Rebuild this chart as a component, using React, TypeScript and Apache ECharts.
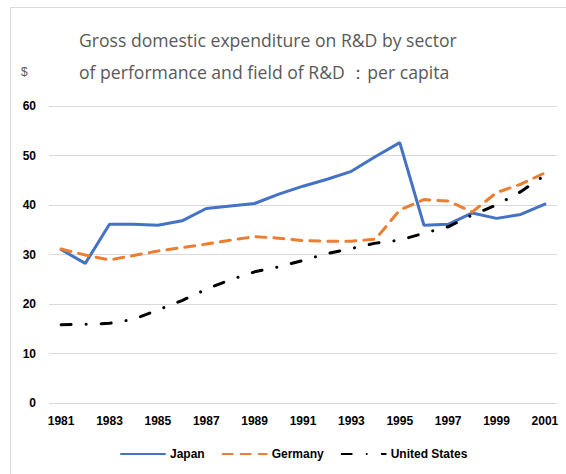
import React, { useEffect, useRef } from "react";
import * as echarts from "echarts";

const years = ["1981","1982","1983","1984","1985","1986","1987","1988","1989","1990","1991","1992","1993","1994","1995","1996","1997","1998","1999","2000","2001"];
const japan = [31.0, 28.2, 36.1, 36.1, 35.9, 36.8, 39.3, 39.8, 40.3, 42.2, 43.8, 45.2, 46.8, 49.8, 52.6, 35.9, 36.1, 38.4, 37.3, 38.1, 40.2];
const germany = [31.1, 29.9, 28.9, 29.8, 30.7, 31.4, 32.1, 32.9, 33.6, 33.3, 32.8, 32.7, 32.7, 33.1, 39.0, 41.1, 40.8, 38.6, 42.5, 44.2, 46.5];
const usa = [15.8, 15.9, 16.1, 16.9, 18.8, 20.7, 23.0, 24.9, 26.5, 27.5, 28.8, 30.2, 31.2, 32.3, 32.9, 34.3, 35.6, 38.0, 40.0, 42.7, 46.0];
const seriesNames = ["Japan", "Germany", "United States"];
const titleText = "Gross domestic expenditure on R&D by sector\nof performance and field of R&D ：per capita";

export default function App() {
  const ref = useRef<HTMLDivElement>(null);
  useEffect(() => {
    if (!ref.current) return;
    const chart = echarts.init(ref.current, null, { renderer: "svg" });
    const font = "'Liberation Sans', Arial, sans-serif";
    chart.setOption({
      animation: false,
      backgroundColor: "#ffffff",
      title: {
        text: titleText,
        left: 74,
        top: 19,
        textStyle: {
          fontFamily: "'Open Sans', 'Noto Sans', sans-serif",
          fontSize: 17.6,
          fontWeight: "normal",
          color: "#595959",
          lineHeight: 32,
        },
      },
      graphic: [
        {
          type: "rect",
          shape: { x: 10.5, y: 7.5, width: 700, height: 700 },
          style: { fill: "none", stroke: "#d9d9d9", lineWidth: 1 },
          silent: true,
          z: -1,
        },
        {
          type: "text",
          left: 21,
          top: 66,
          style: { text: "$", fill: "#595959", font: "12px " + font },
        },
      ],
      legend: {
        left: 115,
        top: 443,
        itemWidth: 44,
        itemHeight: 12,
        itemGap: 17,
        data: seriesNames,
        itemStyle: { opacity: 0 },
        textStyle: { fontFamily: font, fontSize: 12, fontWeight: "bold", color: "#000" },
      },
      grid: { left: 49, right: 9, top: 106, bottom: 71, containLabel: false },
      xAxis: {
        type: "category",
        data: years,
        boundaryGap: true,
        axisLine: { show: false },
        axisTick: { show: false },
        axisLabel: {
          interval: 1,
          margin: 12,
          fontFamily: font,
          fontSize: 12,
          fontWeight: "bold",
          color: "#000",
        },
      },
      yAxis: {
        type: "value",
        min: 0,
        max: 60,
        interval: 10,
        axisLine: { show: false },
        axisTick: { show: false },
        splitLine: { lineStyle: { color: "#d9d9d9", width: 1 } },
        axisLabel: {
          margin: 13,
          fontFamily: font,
          fontSize: 12,
          fontWeight: "bold",
          color: "#000",
        },
      },
      series: [
        {
          name: seriesNames[0],
          type: "line",
          data: japan,
          symbol: "none",
          color: "#4472C4",
          lineStyle: { width: 3, color: "#4472C4", cap: "round" },
        },
        {
          name: seriesNames[1],
          type: "line",
          data: germany,
          symbol: "none",
          color: "#ED7D31",
          lineStyle: { width: 3, color: "#ED7D31", type: [10, 8], cap: "round" },
        },
        {
          name: seriesNames[2],
          type: "line",
          data: usa,
          symbol: "none",
          color: "#000000",
          lineStyle: { width: 3, color: "#000000", type: [10, 15, 0.1, 15], cap: "round" },
        },
      ],
    });
    return () => chart.dispose();
  }, []);
  return <div ref={ref} style={{ width: 566, height: 474, position: "absolute", left: 0, top: 0 }} />;
}
